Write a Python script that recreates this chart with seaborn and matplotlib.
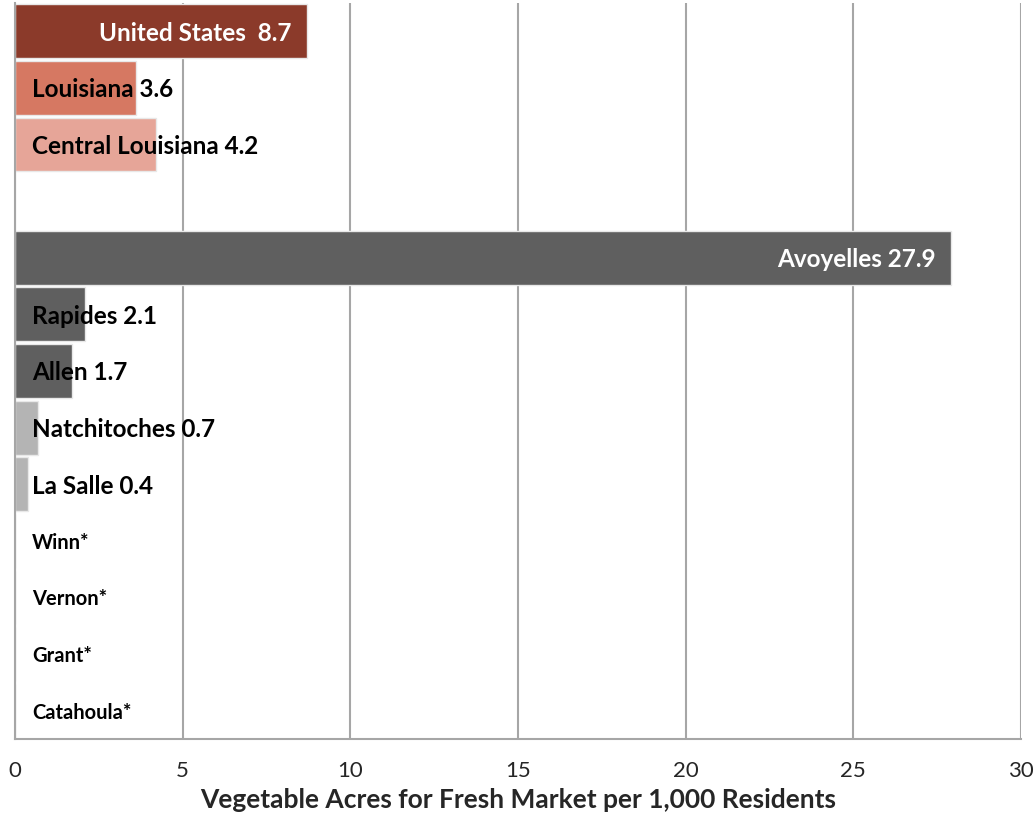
import pandas as pd
import seaborn as sns
import matplotlib.pyplot as plt

# values (starred parishes have no data)
areas = ['United States', 'Louisiana', 'Central Louisiana',
         'Avoyelles', 'Rapides', 'Allen', 'Natchitoches', 'La Salle',
         'Winn', 'Vernon', 'Grant', 'Catahoula']
acres = [8.7, 3.6, 4.2, 27.9, 2.1, 1.7, 0.7, 0.4, 0, 0, 0, 0]
labels = ['United States  8.7', 'Louisiana 3.6', 'Central Louisiana 4.2',
          'Avoyelles 27.9', 'Rapides 2.1', 'Allen 1.7', 'Natchitoches 0.7',
          'La Salle 0.4', 'Winn*', 'Vernon*', 'Grant*', 'Catahoula*']
colors = ['#8B3A2A', '#D67862', '#E6A598',
          '#5F5F5F', '#5F5F5F', '#5F5F5F', '#B4B4B4', '#B4B4B4',
          '#B4B4B4', '#B4B4B4', '#B4B4B4', '#B4B4B4']

df = pd.DataFrame({'area': areas, 'acres': acres, 'label': labels})
# empty slot between the state rows and the parish rows
order = areas[:3] + [' '] + areas[3:]

sns.set_style('white')
plt.rcParams['font.family'] = ['Lato', 'DejaVu Sans']

fig = plt.figure(figsize=(10.36, 8.16), dpi=100)
ax = fig.add_axes([15 / 1036, 77 / 816, 1006 / 1036, 736 / 816])

sns.barplot(data=df, x='acres', y='area', hue='area', order=order,
            palette=dict(zip(areas, colors)), legend=False, orient='h',
            width=0.95, edgecolor='#e8e8e8', linewidth=1, saturation=1,
            zorder=2, ax=ax)

ax.set_xlim(0, 30)
ax.set_ylim(len(order) - 0.5, -0.5)
ax.set_xticks(range(0, 31, 5))
ax.xaxis.grid(True, color='#a6a6a6', linewidth=1.5, zorder=0)
ax.set_axisbelow(True)
ax.set_yticks([])
ax.set_ylabel('')
ax.set_xlabel('Vegetable Acres for Fresh Market per 1,000 Residents',
              fontsize=19, fontweight='bold', labelpad=5)
ax.tick_params(axis='x', direction='out', length=8, width=1.5, color='#a6a6a6',
               labelsize=16, pad=8)
for s in ['top', 'right']:
    ax.spines[s].set_visible(False)
for s in ['left', 'bottom']:
    ax.spines[s].set_color('#a6a6a6')
    ax.spines[s].set_linewidth(1.5)

for name, val, lab in zip(areas, acres, labels):
    y = order.index(name)
    if val > 8:
        ax.text(val - 0.45, y, lab, ha='right', va='center_baseline', color='white',
                fontsize=17.5, fontweight='bold', zorder=3)
    elif val > 0:
        ax.text(0.5, y, lab, ha='left', va='center_baseline', color='black',
                fontsize=17.5, fontweight='bold', zorder=3)
    else:
        ax.text(0.5, y, lab, ha='left', va='center_baseline', color='black',
                fontsize=14.5, fontweight='bold', zorder=3)

plt.savefig('out.png', dpi=100)
